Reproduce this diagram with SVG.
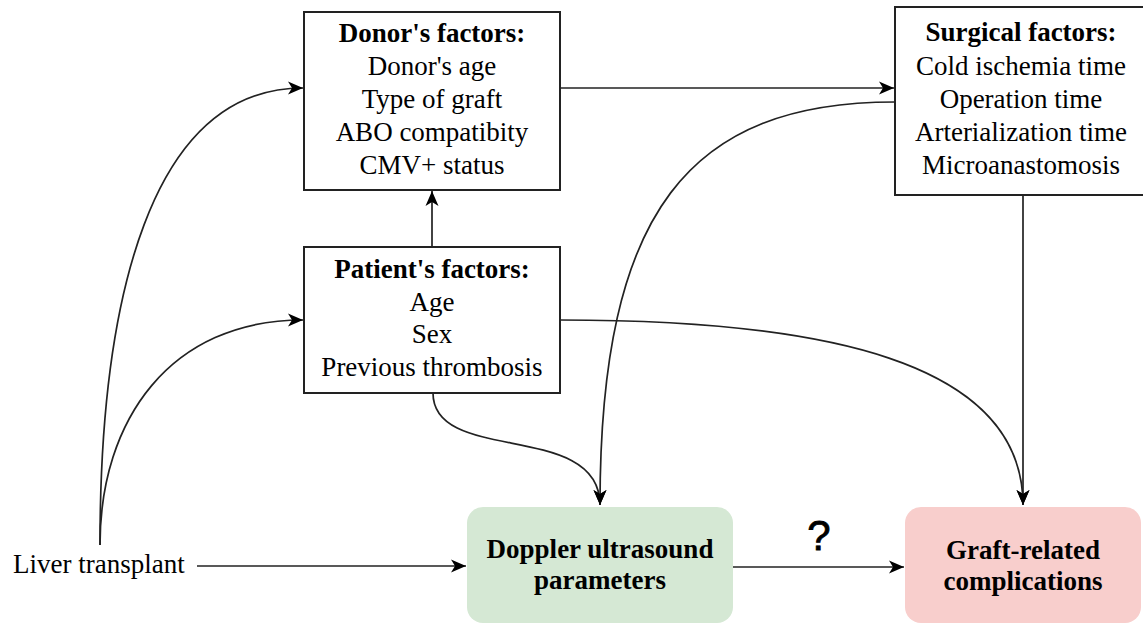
<svg xmlns="http://www.w3.org/2000/svg" width="1143" height="624" viewBox="0 0 1143 624">
<defs>
<marker id="arr" markerUnits="userSpaceOnUse" markerWidth="16" markerHeight="14" refX="15" refY="7" orient="auto">
<path d="M0,0.5 L15,7 L0,13.5 L4,7 z" fill="#000"/>
</marker>
</defs>
<style>
.box{fill:#fff;stroke:#222;stroke-width:2}
.t{font-family:"Liberation Serif","Times New Roman",serif;font-size:27px;fill:#000;text-anchor:middle}
.b{font-weight:bold}
.c{fill:none;stroke:#222;stroke-width:1.7}
</style>
<rect width="1143" height="624" fill="#fff"/>
<g id="connectors">
<path class="c" d="M100,545 C100,300 150,88 303,88" marker-end="url(#arr)"/>
<path class="c" d="M100,545 C100,420 170,320 303,320" marker-end="url(#arr)"/>
<path class="c" d="M560,88 L894,88" marker-end="url(#arr)"/>
<path class="c" d="M432,247 L432,191" marker-end="url(#arr)"/>
<path class="c" d="M433,393 C433,465 600,420 600,505" marker-end="url(#arr)"/>
<path class="c" d="M895,102 C690,102 600,210 600,505" marker-end="url(#arr)"/>
<path class="c" d="M560,320 C820,320 1023,360 1023,505" marker-end="url(#arr)"/>
<path class="c" d="M1023,195 L1023,505" marker-end="url(#arr)"/>
<path class="c" d="M197,566 L466,566" marker-end="url(#arr)"/>
<path class="c" d="M733,567 L904,567" marker-end="url(#arr)"/>
<text x="819" y="550" font-family="Liberation Sans, Arial, sans-serif" font-size="42" font-weight="normal" text-anchor="middle" fill="#000" stroke="#000" stroke-width="0.8">?</text>
</g>
<g id="donor">
<rect class="box" x="304" y="12" width="256" height="178"/>
<text class="t b" x="432" y="42">Donor's factors:</text>
<text class="t" x="432" y="75">Donor's age</text>
<text class="t" x="432" y="108">Type of graft</text>
<text class="t" x="432" y="141">ABO compatibity</text>
<text class="t" x="432" y="174">CMV+ status</text>
</g>
<g id="surgical">
<rect class="box" x="895" y="7" width="252" height="188"/>
<text class="t b" x="1021" y="41">Surgical factors:</text>
<text class="t" x="1021" y="75">Cold ischemia time</text>
<text class="t" x="1021" y="108">Operation time</text>
<text class="t" x="1021" y="141">Arterialization time</text>
<text class="t" x="1021" y="174">Microanastomosis</text>
</g>
<g id="patient">
<rect class="box" x="304" y="247" width="256" height="146"/>
<text class="t b" x="432" y="278">Patient's factors:</text>
<text class="t" x="432" y="311">Age</text>
<text class="t" x="432" y="343">Sex</text>
<text class="t" x="432" y="376">Previous thrombosis</text>
</g>
<g id="liver">
<text class="t" x="13" y="573" style="text-anchor:start">Liver transplant</text>
</g>
<g id="doppler">
<rect x="467" y="507" width="266" height="116" rx="16" fill="#d5e8d4"/>
<text class="t b" x="600" y="558">Doppler ultrasound</text>
<text class="t b" x="600" y="589">parameters</text>
</g>
<g id="graft">
<rect x="905" y="507" width="236" height="116" rx="16" fill="#f8cecc"/>
<text class="t b" x="1023" y="559">Graft-related</text>
<text class="t b" x="1023" y="590">complications</text>
</g>
</svg>
